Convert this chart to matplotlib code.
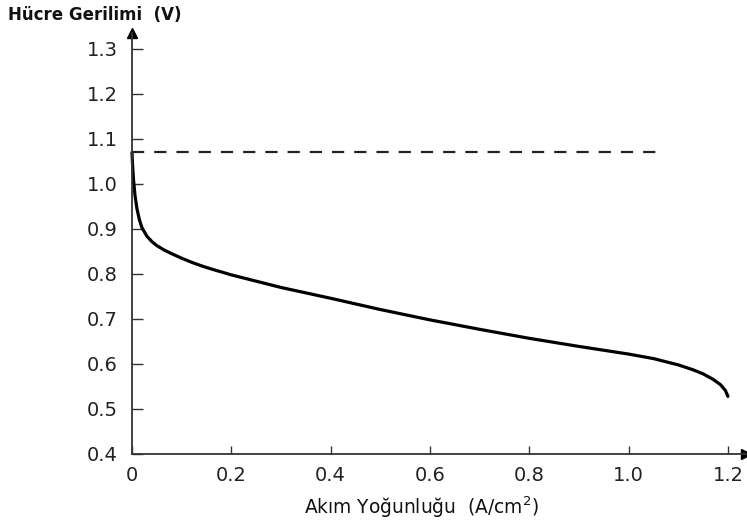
import matplotlib
matplotlib.use("Agg")
import matplotlib.pyplot as plt

# Veriler
akim = [0.0, 0.001, 0.003, 0.006, 0.01, 0.015, 0.02, 0.03, 0.04, 0.05, 0.065, 0.08,
        0.1, 0.12, 0.14, 0.16, 0.2, 0.25, 0.3, 0.4, 0.5, 0.6, 0.7, 0.8, 0.9, 1.0,
        1.05, 1.1, 1.13, 1.15, 1.17, 1.185, 1.195, 1.2]
gerilim = [1.07, 1.045, 1.01, 0.975, 0.945, 0.92, 0.903, 0.884, 0.872, 0.863, 0.853,
           0.845, 0.835, 0.826, 0.818, 0.811, 0.798, 0.784, 0.77, 0.746, 0.721, 0.698,
           0.677, 0.657, 0.639, 0.622, 0.612, 0.598, 0.587, 0.578, 0.566, 0.554, 0.541,
           0.528]
acik_devre = 1.07
acik_devre_x = [0.0, 1.057]

xticks = [0, 0.2, 0.4, 0.6, 0.8, 1.0, 1.2]
xtick_labels = ["0", "0.2", "0.4", "0.6", "0.8", "1.0", "1.2"]
yticks = [0.4, 0.5, 0.6, 0.7, 0.8, 0.9, 1.0, 1.1, 1.2, 1.3]

plt.rcParams['font.family'] = ['DejaVu Sans']

fig = plt.figure(figsize=(7.47, 5.26), dpi=100)
ax = fig.add_axes([0.1767, 0.1369, 0.8217, 0.80])

ax.plot(akim, gerilim, color="black", lw=2.3, solid_capstyle="round",
        solid_joinstyle="round", clip_on=False)
ax.plot(acik_devre_x, [acik_devre, acik_devre], color="#222222", lw=1.6,
        dashes=(5.5, 4.5), clip_on=False)

ax.set_xlim(0, 1.236)
ax.set_ylim(0.4, 1.335)

ax.spines["top"].set_visible(False)
ax.spines["right"].set_visible(False)
for s in ["left", "bottom"]:
    ax.spines[s].set_linewidth(1.3)
    ax.spines[s].set_color("#333333")

# Eksen oklari
ax.plot(1, 0, marker=">", color="black", ms=7, transform=ax.transAxes, clip_on=False)
ax.plot(0, 1, marker="^", color="black", ms=7, transform=ax.transAxes, clip_on=False)

ax.set_xticks(xticks)
ax.set_xticklabels(xtick_labels)
ax.set_yticks(yticks)
ax.set_yticklabels([f"{v:.1f}" for v in yticks])
ax.tick_params(axis="both", direction="in", labelsize=14, colors="#333333",
               labelcolor="#222222")
ax.tick_params(axis="y", length=8, width=1.0, pad=10)
ax.tick_params(axis="x", length=6, width=1.0, pad=9)

fig.text(0.011, 0.972, "Hücre Gerilimi  (V)", fontsize=12, fontweight="bold",
         ha="left", va="center", color="#111111")
fig.text(0.5636, 0.036, "Akım Yoğunluğu  (A/cm$^2$)", fontsize=13.4, ha="center",
         va="center", color="#111111")

fig.savefig("out.png", dpi=100)
